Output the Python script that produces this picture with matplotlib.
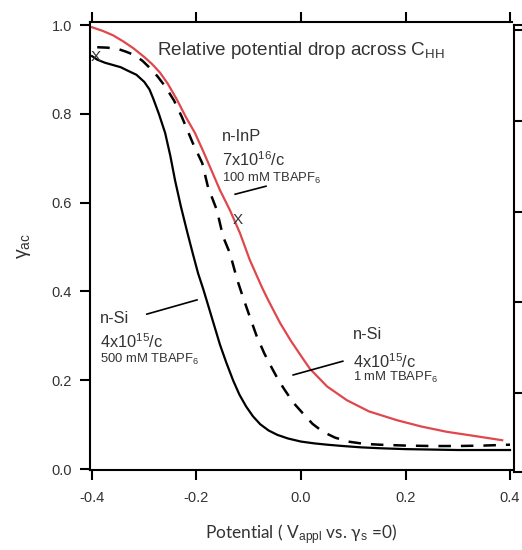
import matplotlib
matplotlib.use("Agg")
import matplotlib.pyplot as plt
import numpy as np

plt.rcParams['font.family'] = ['Liberation Sans', 'DejaVu Sans']
plt.rcParams['mathtext.fontset'] = 'custom'
plt.rcParams['mathtext.rm'] = 'Liberation Sans'
plt.rcParams['mathtext.it'] = 'Liberation Sans'

# n-InP, 7x10^16/c, 100 mM TBAPF6 (red)
inp_x = [-0.400, -0.38, -0.36, -0.34, -0.32, -0.30, -0.285, -0.27, -0.255, -0.237,
         -0.22, -0.203, -0.188, -0.174, -0.155, -0.136, -0.117, -0.098, -0.075, -0.063,
         -0.04, -0.02, 0.0, 0.017, 0.05, 0.088, 0.13, 0.184, 0.23, 0.279, 0.33, 0.385]
inp_y = [0.995, 0.987, 0.977, 0.963, 0.947, 0.928, 0.912, 0.893, 0.868, 0.831,
         0.792, 0.757, 0.718, 0.680, 0.628, 0.583, 0.532, 0.471, 0.410, 0.381,
         0.329, 0.290, 0.255, 0.226, 0.186, 0.155, 0.130, 0.110, 0.096, 0.084, 0.075, 0.065]

# n-Si, 4x10^15/c, 500 mM TBAPF6 (solid black)
si500_x = [-0.400, -0.39, -0.375, -0.36, -0.345, -0.333, -0.315, -0.30, -0.29, -0.283,
           -0.272, -0.26, -0.25, -0.241, -0.23, -0.218, -0.207, -0.197, -0.187, -0.178,
           -0.166, -0.155, -0.143, -0.13, -0.118, -0.105, -0.092, -0.078, -0.062,
           -0.045, -0.025, 0.0, 0.025, 0.05, 0.08, 0.115, 0.151, 0.2, 0.25, 0.3, 0.35, 0.40]
si500_y = [0.930, 0.922, 0.915, 0.910, 0.905, 0.898, 0.888, 0.872, 0.855, 0.835,
           0.800, 0.757, 0.705, 0.650, 0.592, 0.535, 0.485, 0.441, 0.405, 0.370,
           0.323, 0.280, 0.240, 0.200, 0.168, 0.141, 0.119, 0.101, 0.087,
           0.077, 0.069, 0.062, 0.058, 0.055, 0.052, 0.049, 0.047, 0.045, 0.044, 0.043, 0.043, 0.043]

# n-Si, 4x10^15/c, 1 mM TBAPF6 (dashed black)
si1_x = [-0.39, -0.37, -0.35, -0.335, -0.318, -0.303, -0.289, -0.275, -0.26, -0.243,
         -0.228, -0.207, -0.189, -0.178, -0.161, -0.149, -0.136, -0.122, -0.111, -0.098,
         -0.085, -0.07, -0.055, -0.043, -0.031, -0.015, 0.004, 0.022, 0.042,
         0.065, 0.09, 0.12, 0.15, 0.2, 0.25, 0.3, 0.35, 0.40]
si1_y = [0.950, 0.949, 0.946, 0.940, 0.932, 0.919, 0.903, 0.885, 0.862, 0.830,
         0.793, 0.734, 0.689, 0.635, 0.583, 0.523, 0.486, 0.426, 0.387, 0.343,
         0.300, 0.260, 0.226, 0.200, 0.178, 0.150, 0.125, 0.102, 0.084,
         0.071, 0.062, 0.057, 0.055, 0.053, 0.052, 0.052, 0.053, 0.055]

x_ticks = [-0.4, -0.2, 0.0, 0.2, 0.4]
y_ticks = [0.0, 0.2, 0.4, 0.6, 0.8, 1.0]

fig = plt.figure(figsize=(5.22, 5.5), dpi=100)
ax = fig.add_axes([90 / 522, 1 - 470 / 550, 422 / 522, 448 / 550])

ax.plot(inp_x, inp_y, color='#e0474c', lw=1.6)
ax.plot(si500_x, si500_y, color='black', lw=1.6)
ax.plot(si1_x, si1_y, color='black', lw=1.8, dashes=(5, 4))

ax.set_xlim(-0.4038, 0.4038)
ax.set_ylim(-0.002, 1.0068)
ax.set_xticks(x_ticks)
ax.set_yticks(y_ticks)
ax.set_xticklabels(['%.1f' % v for v in x_ticks])
ax.set_yticklabels(['%.1f' % v for v in y_ticks])
ax.tick_params(axis='both', direction='out', length=7, width=1.5, labelsize=10.5,
               colors='black', labelcolor='#333333', pad=6)
ax.tick_params(axis='x', top=True, labeltop=False, pad=8)
ax.spines['right'].set_visible(False)
for s in ['left', 'bottom', 'top']:
    ax.spines[s].set_linewidth(1.5)

ax.set_ylabel('γ$_{\\mathrm{ac}}$', fontsize=14, color='#333333', labelpad=13)
ax.set_xlabel('Potential ( V$_{\\mathrm{appl}}$ vs. γ$_{\\mathrm{s}}$ =0)',
              fontsize=12.4, color='#333333', labelpad=13, family=['Lato', 'DejaVu Sans'])

ax.text(-0.276, 0.932, 'Relative potential drop across C$_{\\mathrm{HH}}$',
        fontsize=13.6, color='#333333', va='baseline')

# annotations
tc = '#333333'
ax.text(-0.152, 0.750, 'n-InP', fontsize=11.8, color=tc, va='center')
ax.text(-0.152, 0.696, '7x10$^{16}$/c', fontsize=11.8, color=tc, va='center')
ax.text(-0.152, 0.655, '100 mM TBAPF$_{6}$', fontsize=9.4, color=tc, va='center')
ax.plot([-0.126, -0.067], [0.619, 0.637], color='black', lw=1.2)

ax.text(-0.384, 0.340, 'n-Si', fontsize=11.8, color=tc, va='center')
ax.text(-0.384, 0.286, '4x10$^{15}$/c', fontsize=11.8, color=tc, va='center')
ax.text(-0.384, 0.248, '500 mM TBAPF$_{6}$', fontsize=9.4, color=tc, va='center')
ax.plot([-0.295, -0.199], [0.349, 0.381], color='black', lw=1.2)

ax.text(0.099, 0.302, 'n-Si', fontsize=11.8, color=tc, va='center')
ax.text(0.099, 0.243, '4x10$^{15}$/c', fontsize=11.8, color=tc, va='center')
ax.text(0.099, 0.207, '1 mM TBAPF$_{6}$', fontsize=9.4, color=tc, va='center')
ax.plot([-0.015, 0.080], [0.212, 0.243], color='black', lw=1.2)

ax.text(-0.392, 0.928, 'X', fontsize=11, color='#333333', ha='center', va='center')
ax.text(-0.122, 0.561, 'X', fontsize=11, color='#333333', ha='center', va='center')

# edge of the neighbouring panel
ax2 = fig.add_axes([514 / 522, 1 - 472 / 550, 0.2, (472 - 25) / 550])
ax2.set_xlim(0, 1)
ax2.set_ylim(0.026, 1.011)
ax2.set_xticks([])
ax2.set_yticks([1.0, 0.8, 0.6, 0.4, 0.2])
ax2.tick_params(axis='y', direction='in', length=7, width=1.5, labelleft=False)
ax2.spines['right'].set_visible(False)
for s in ['left', 'bottom', 'top']:
    ax2.spines[s].set_linewidth(1.5)
ax2.patch.set_alpha(0)

fig.savefig('out.png', dpi=100)
